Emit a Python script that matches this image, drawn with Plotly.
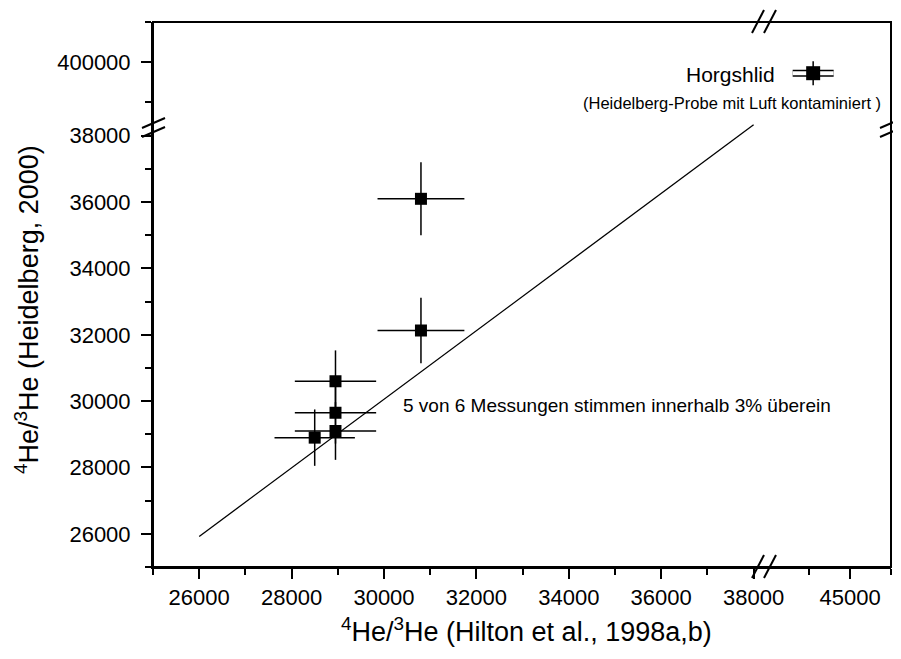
import plotly.graph_objects as go

# data
hilton = [30800, 30800, 28950, 28950, 28950, 28500]
hilton_err = [940, 940, 880, 880, 880, 870]
heidelberg = [36100, 32130, 30600, 29650, 29100, 28900]
heidelberg_err = [1100, 985, 930, 930, 870, 850]

horg_x = [44100]
horg_x_err = [500]
horg_y = [398600]
horg_y_err = [1500]

line_x = [26000, 38000]
line_y = [25920, 38330]

x_lo_ticks = [26000, 28000, 30000, 32000, 34000, 36000, 38000]
y_lo_ticks = [26000, 28000, 30000, 32000, 34000, 36000, 38000]

W, H = 901, 659
OFF = 8                          # page body margin
L, R, T, B = 153, 891, 22, 567   # plot frame in window pixels
XB, YB = 764, 122                # break positions in pixels

def px(p):
    return (p - L) / (R - L)

def py(p):
    return (B - p) / (B - T)

font = "Liberation Sans, Arial, sans-serif"
black = "black"

fig = go.Figure()

# line
fig.add_trace(go.Scatter(x=line_x, y=line_y, mode="lines",
                         line=dict(color=black, width=1.3),
                         xaxis="x", yaxis="y", showlegend=False))
# main points
fig.add_trace(go.Scatter(x=hilton, y=heidelberg, mode="markers",
                         marker=dict(symbol="square", size=12, color=black),
                         error_x=dict(type="data", array=hilton_err, color=black, thickness=1.5, width=0),
                         error_y=dict(type="data", array=heidelberg_err, color=black, thickness=1.5, width=0),
                         xaxis="x", yaxis="y", showlegend=False))
# Horgshlid (double horizontal bar)
fig.add_trace(go.Scatter(x=horg_x, y=horg_y, mode="markers", marker=dict(size=0.1, color="white", opacity=0),
                         error_x=dict(type="data", array=horg_x_err, color=black, thickness=7, width=0),
                         xaxis="x2", yaxis="y2", showlegend=False))
fig.add_trace(go.Scatter(x=horg_x, y=horg_y, mode="markers", marker=dict(size=0.1, color="white", opacity=0),
                         error_x=dict(type="data", array=horg_x_err, color="white", thickness=4, width=0),
                         xaxis="x2", yaxis="y2", showlegend=False))
fig.add_trace(go.Scatter(x=horg_x, y=horg_y, mode="markers",
                         marker=dict(symbol="square", size=14, color=black),
                         error_y=dict(type="data", array=horg_y_err, color=black, thickness=1.5, width=0),
                         xaxis="x2", yaxis="y2", showlegend=False))

xs = px(XB)
ys = py(YB)

common = dict(showline=True, linecolor=black, linewidth=2, showgrid=False, zeroline=False,
              automargin=False, tickformat="d",
              tickcolor=black, tickwidth=2, ticklen=10,
              tickfont=dict(family=font, size=22, color=black))

def minor(**kw):
    d = dict(ticklen=6, tickwidth=2, tickcolor=black, showgrid=False)
    d.update(kw)
    return d

fig.update_layout(
    width=W - OFF, height=H - OFF,
    margin=dict(l=L - OFF, r=W - R, t=T - OFF, b=H - B, autoexpand=False),
    paper_bgcolor="white", plot_bgcolor="white",
    font=dict(family=font, color=black),
    xaxis=dict(common, domain=[0, xs], range=[25000, 25000 + (XB - L) / 46.2 * 1000], anchor="y",
               ticks="outside", tickmode="array", tickvals=x_lo_ticks,
               minor=minor(tickmode="linear", tick0=25000, dtick=1000)),
    xaxis2=dict(common, domain=[xs, 1], range=[42900, 46000], anchor="y",
                ticks="outside", tickmode="array", tickvals=[45000],
                minor=minor(tickmode="array", tickvals=[44000, 46000])),
    xaxis3=dict(common, overlaying="x", matches="x", side="top", anchor="free", position=1,
                ticks="inside", showticklabels=False, tickmode="array", tickvals=x_lo_ticks,
                minor=minor(tickmode="linear", tick0=25000, dtick=1000)),
    xaxis4=dict(common, overlaying="x2", matches="x2", side="top", anchor="free", position=1,
                ticks="inside", showticklabels=False, tickmode="array", tickvals=[45000],
                minor=minor(tickmode="array", tickvals=[44000, 46000])),
    yaxis=dict(common, domain=[0, ys], range=[25000, 25000 + (B - YB) / 33.17 * 1000], anchor="x",
               ticks="outside", tickmode="array", tickvals=y_lo_ticks, ticklabelstandoff=6,
               minor=minor(tickmode="linear", tick0=25000, dtick=1000)),
    yaxis2=dict(common, domain=[ys, 1], range=[400000 - (YB - 62) / 8 * 1000, 405000], anchor="x",
                ticks="outside", tickmode="array", tickvals=[400000], ticklabelstandoff=6,
                minor=minor(tickmode="array", tickvals=[395000, 405000])),
    yaxis3=dict(common, overlaying="y", matches="y", side="right", anchor="free", position=1,
                ticks="inside", showticklabels=False, tickmode="array", tickvals=y_lo_ticks,
                minor=minor(tickmode="linear", tick0=25000, dtick=1000)),
    yaxis4=dict(common, overlaying="y2", matches="y2", side="right", anchor="free", position=1,
                ticks="inside", showticklabels=False, tickmode="array", tickvals=[400000],
                minor=minor(tickmode="array", tickvals=[395000, 405000])),
)

# frame
fig.add_shape(type="rect", xref="paper", yref="paper", x0=0, y0=0, x1=1, y1=1,
              line=dict(color=black, width=2), fillcolor="rgba(0,0,0,0)", layer="above")

# axis break marks
breaks = [
    ((752, 578), (764, 555)), ((764, 578), (776, 555)),   # bottom
    ((752, 33), (764, 10)), ((764, 33), (776, 10)),       # top
    ((142, 128), (165, 118)), ((142, 137), (165, 127)),   # left
    ((880, 128), (901, 119)), ((880, 137), (901, 128)),   # right
]
for (x0, y0), (x1, y1) in breaks:
    fig.add_shape(type="line", xref="paper", yref="paper",
                  x0=px(x0), y0=py(y0), x1=px(x1), y1=py(y1),
                  line=dict(color=black, width=2))

# texts
fig.add_annotation(text="<sup>4</sup>He/<sup>3</sup>He (Hilton et al., 1998a,b)",
                   xref="paper", yref="paper", x=px(526), y=py(630), showarrow=False,
                   font=dict(size=27, family=font, color=black), xanchor="center", yanchor="middle")
fig.add_annotation(text="<sup>4</sup>He/<sup>3</sup>He (Heidelberg, 2000)",
                   xref="paper", yref="paper", x=px(27), y=py(310), showarrow=False, textangle=-90,
                   font=dict(size=27, family=font, color=black), xanchor="center", yanchor="middle")
fig.add_annotation(text="5 von 6 Messungen stimmen innerhalb 3% überein",
                   xref="paper", yref="paper", x=px(401), y=py(405), showarrow=False,
                   font=dict(size=19, family=font, color=black), xanchor="left", yanchor="middle")
fig.add_annotation(text="Horgshlid",
                   xref="paper", yref="paper", x=px(777), y=py(75), showarrow=False,
                   font=dict(size=21, family=font, color=black), xanchor="right", yanchor="middle")
fig.add_annotation(text="(Heidelberg-Probe mit Luft kontaminiert )",
                   xref="paper", yref="paper", x=px(883), y=py(103), showarrow=False,
                   font=dict(size=16.5, family=font, color=black), xanchor="right", yanchor="middle")

fig.write_html("out.html")
